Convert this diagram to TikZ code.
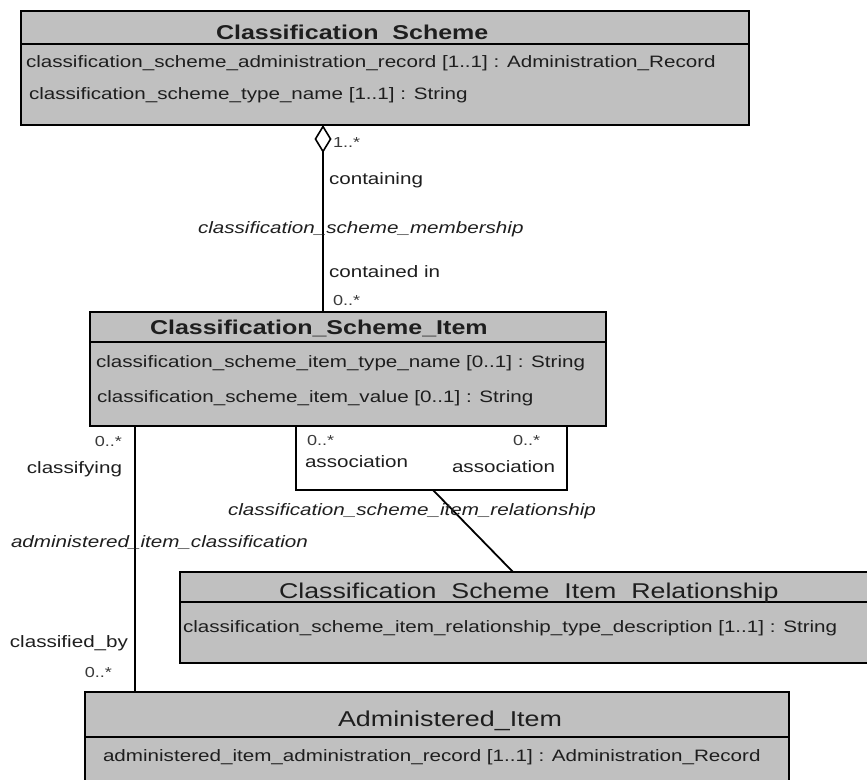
\documentclass[tikz,border=0pt]{standalone}
\usepackage{fontspec}
\newfontfamily\umlfont[FakeStretch=1.25]{Liberation Sans}
\usetikzlibrary{arrows.meta}
\definecolor{boxgray}{HTML}{C0C0C0}
\definecolor{ink}{HTML}{1E1E1E}
\definecolor{multink}{HTML}{3A3A3A}
\begin{document}
\begin{tikzpicture}[x=1pt,y=-1pt,
  classbox/.style={draw=black, line width=1.8pt, fill=boxgray, inner sep=0pt, outer sep=0pt, anchor=north west},
  assocbox/.style={draw=black, line width=1.6pt, inner sep=0pt, outer sep=0pt, anchor=north west},
  sepline/.style={draw=black, line width=1.6pt},
  conn/.style={draw=black, line width=1.8pt},
  txt/.style={inner sep=0pt, outer sep=0pt, anchor=base west, text=ink},
  attr/.style={txt, font=\umlfont\fontsize{16.5}{18}\selectfont},
  lbl/.style={txt, font=\umlfont\fontsize{16.5}{18}\selectfont},
  rolelbl/.style={txt, font=\umlfont\itshape\fontsize{16.5}{18}\selectfont},
  mult/.style={txt, text=multink, font=\umlfont\fontsize{14.5}{16}\selectfont},
  boldtitle/.style={txt, font=\umlfont\bfseries\fontsize{20}{22}\selectfont},
  regtitle/.style={txt, font=\umlfont\fontsize{21.4}{23}\selectfont}
]
\useasboundingbox (0,0) rectangle (867,779);
\clip (0,0) rectangle (867,779);

% ---------- class boxes ----------
\node[classbox, minimum width=728pt, minimum height=114pt] (cs) at (21,11) {};
\draw[sepline] (21,44) -- (749,44);
\node[boldtitle] (cs-t) at (216,39.5) {Classification\phantom{\_}Scheme};
\node[attr] (cs-a1) at (26,67) {classification\_scheme\_administration\_record [1..1] : Administration\_Record};
\node[attr] (cs-a2) at (29,99) {classification\_scheme\_type\_name [1..1] : String};

\node[classbox, minimum width=516pt, minimum height=114pt] (csi) at (90,312) {};
\draw[sepline] (90,342) -- (606,342);
\node[boldtitle] (csi-t) at (150,334) {Classification\_Scheme\_Item};
\node[attr] (csi-a1) at (96,367) {classification\_scheme\_item\_type\_name [0..1] : String};
\node[attr] (csi-a2) at (97,402) {classification\_scheme\_item\_value [0..1] : String};

\node[classbox, minimum width=710pt, minimum height=91pt] (csir) at (180,572) {};
\draw[sepline] (180,602) -- (890,602);
\node[regtitle] (csir-t) at (279,598) {Classification\phantom{\_}Scheme\phantom{\_}Item\phantom{\_}Relationship};
\node[attr] (csir-a1) at (183,632) {classification\_scheme\_item\_relationship\_type\_description [1..1] : String};

\node[classbox, minimum width=704pt, minimum height=120pt] (ai) at (85,692) {};
\draw[sepline] (85,737) -- (789,737);
\node[regtitle, font=\umlfont\fontsize{21.5}{23}\selectfont] (ai-t) at (338,726) {Administered\_Item};
\node[attr] (ai-a1) at (103,761) {administered\_item\_administration\_record [1..1] : Administration\_Record};

% ---------- association box ----------
\node[assocbox, minimum width=271pt, minimum height=64pt] (assoc) at (296,426) {};

% ---------- connectors ----------
\coordinate (aggx) at (323,0);
\coordinate (leftx) at (135,0);
\coordinate (d1) at (433,0);
\coordinate (d2) at (513,0);
\draw[conn, {Diamond[open, length=28pt, width=17pt, line width=1.6pt]}-] (cs.south -| aggx) -- (csi.north -| aggx);
\draw[conn] (csi.south -| leftx) -- (ai.north -| leftx);
\draw[conn] (assoc.south -| d1) -- (csir.north -| d2);

% ---------- labels ----------
\node[mult] (m1) at (333,147) {1..*};
\node[lbl] (l1) at (329,184) {containing};
\node[rolelbl] (r1) at (198,233) {classification\_scheme\_membership};
\node[lbl] (l2) at (329,277) {contained in};
\node[mult] (m2) at (333,305) {0..*};

\node[mult, anchor=base east] (m3) at (122,446) {0..*};
\node[lbl, anchor=base east] (l3) at (122,473) {classifying};
\node[rolelbl] (r2) at (11,547) {administered\_item\_classification};
\node[lbl, anchor=base east] (l4) at (128,647) {classified\_by};
\node[mult, anchor=base east] (m4) at (112,677) {0..*};

\node[mult] (m5) at (307,445) {0..*};
\node[lbl] (l5) at (305,467) {association};
\node[mult] (m6) at (513,445) {0..*};
\node[lbl] (l6) at (452,472) {association};
\node[rolelbl] (r3) at (228,515) {classification\_scheme\_item\_relationship};
\end{tikzpicture}
\end{document}
